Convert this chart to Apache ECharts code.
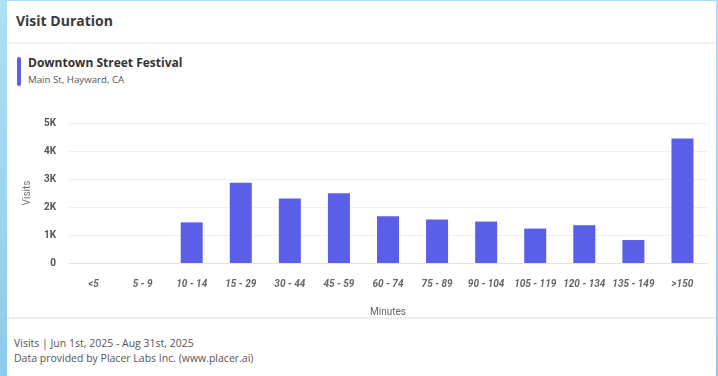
<!DOCTYPE html>
<html>
<head>
<meta charset="utf-8">
<script src="https://cdn.jsdelivr.net/npm/echarts@6/dist/echarts.min.js"></script>
<style>
html,body{margin:0;padding:0;}
body{width:718px;height:376px;background:linear-gradient(#aee0f5,#8ccbeb);position:relative;overflow:hidden;font-family:"Open Sans",sans-serif;}
#card{position:absolute;left:7px;top:1px;width:709px;height:375px;background:#fff;}
#title{position:absolute;left:9px;top:10px;font-size:14px;font-weight:700;color:#3a3a3a;}
#hr1{position:absolute;left:0;top:41px;width:709px;height:2px;background:#f2f2f2;}
#lbar{position:absolute;left:10px;top:56px;width:4px;height:29px;border-radius:2px;background:#5b5ee6;}
#lname{position:absolute;left:21px;top:53px;font-size:12px;font-weight:700;color:#333;}
#laddr{position:absolute;left:21px;top:72px;font-size:9.7px;color:#555;}
#hr2{position:absolute;left:0;top:316px;width:709px;height:2px;background:#eeeeee;}
#foot1{position:absolute;left:7px;top:335px;font-size:10.5px;color:#555;}
#foot2{position:absolute;left:7px;top:350px;font-size:10.5px;color:#555;}
#chart{position:absolute;left:0;top:100px;width:718px;height:220px;}
</style>
</head>
<body>
<div id="card">
  <div id="title">Visit Duration</div>
  <div id="hr1"></div>
  <div id="lbar"></div>
  <div id="lname">Downtown Street Festival</div>
  <div id="laddr">Main St, Hayward, CA</div>
  <div id="hr2"></div>
  <div id="foot1">Visits | Jun 1st, 2025 - Aug 31st, 2025</div>
  <div id="foot2">Data provided by Placer Labs Inc. (www.placer.ai)</div>
</div>
<div id="chart"></div>
<script>
var categories = ['<5','5 - 9','10 - 14','15 - 29','30 - 44','45 - 59','60 - 74','75 - 89','90 - 104','105 - 119','120 - 134','135 - 149','>150'];
var visits = [0, 0, 1450, 2870, 2300, 2490, 1670, 1550, 1480, 1230, 1350, 820, 4450];
var yTicks = [0, 1000, 2000, 3000, 4000, 5000];

var myChart = echarts.init(document.getElementById('chart'));

var option = {
    animation: false,
    grid: {
        left: 69,
        right: 11,
        top: 23,
        bottom: 57,
        outerBoundsMode: 'none'
    },
    xAxis: {
        type: 'category',
        data: categories,
        name: 'Minutes',
        nameLocation: 'middle',
        nameGap: 44,
        nameTextStyle: { color: '#666', fontSize: 10, fontFamily: 'Roboto' },
        axisTick: { show: false },
        axisLine: { lineStyle: { color: '#e3e3e3' } },
        axisLabel: {
            margin: 16,
            color: '#666',
            fontSize: 10,
            fontWeight: 'bold',
            fontStyle: 'italic',
            fontFamily: 'Roboto',
            interval: 0
        }
    },
    yAxis: {
        type: 'value',
        min: yTicks[0],
        max: yTicks[yTicks.length - 1],
        interval: 1000,
        name: 'Visits',
        nameLocation: 'middle',
        nameGap: 37,
        nameTextStyle: { color: '#777', fontSize: 10, fontFamily: 'Roboto' },
        axisLine: { show: false },
        axisTick: { show: false },
        splitLine: { lineStyle: { color: '#f0f0f0' } },
        axisLabel: {
            margin: 13,
            color: '#555',
            fontSize: 10,
            fontWeight: 'bold',
            fontFamily: 'Roboto',
            formatter: function (v) { return v === 0 ? '0' : (v / 1000) + 'K'; }
        }
    },
    series: [{
        type: 'bar',
        data: visits,
        barWidth: 22,
        itemStyle: { color: '#5b5ee6' }
    }]
};
myChart.setOption(option);
</script>
</body>
</html>
